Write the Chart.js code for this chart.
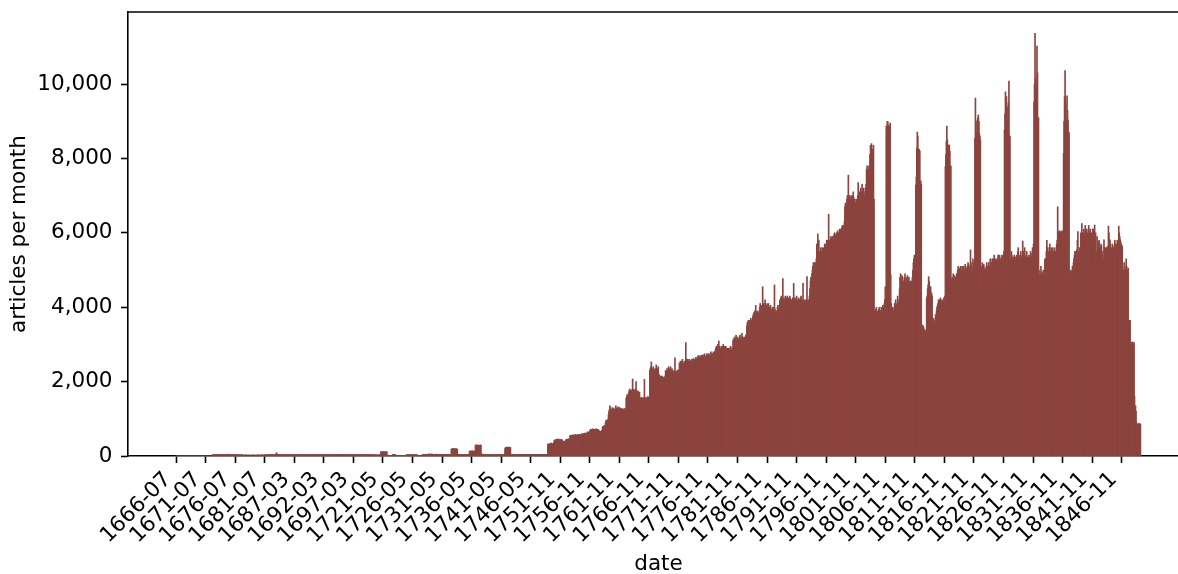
<!DOCTYPE html>
<html>
<head>
<meta charset="utf-8">
<script src="https://cdn.jsdelivr.net/npm/chart.js@4.4.1/dist/chart.umd.min.js"></script>
<style>
  html, body { margin: 0; padding: 0; background: #fff; }
  /* the axes run a little past the right edge of the picture */
  #clip { width: 1178px; height: 574px; overflow: hidden; }
  #wrap { width: 1189px; height: 574px; position: relative; }
</style>
</head>
<body>
<div id="clip"><div id="wrap"><canvas id="articlesPerMonth"></canvas></div></div>
<script>
// months that appear on the axis (the gaps between spans are not plotted)
const monthSpans = [
  ["1666-07", "1683-12"],
  ["1684-09", "1700-12"],
  ["1720-03", "1748-12"],
  ["1749-07", "1850-01"],
];

// articles per month, one row per year
const counts1666 = [
  0, 0, 0, 0, 0, 0,
  0, 0, 0, 0, 0, 0, 0, 0, 0, 0, 0, 0,
  0, 0, 0, 0, 0, 0, 0, 0, 0, 0, 0, 0,
  0, 0, 0, 0, 0, 0, 0, 0, 0, 0, 0, 0,
  0, 0, 0, 0, 0, 0, 0, 0, 0, 0, 0, 0,
  0, 0, 0, 0, 0, 0, 0, 0, 0, 0, 0, 0,
  0, 0, 0, 0, 0, 0, 0, 0, 35, 40, 30, 35,
  40, 35, 30, 45, 40, 35, 30, 40, 35, 45, 40, 30,
  35, 40, 45, 30, 35, 40, 30, 35, 40, 45, 35, 30,
  40, 30, 35, 45, 50, 40, 35, 30, 40, 35, 45, 40,
  35, 30, 40, 45, 35, 30, 40, 35, 30, 40, 35, 30,
  30, 0, 35, 0, 30, 40, 0, 30, 35, 0, 30, 0,
  0, 30, 0, 0, 35, 0, 0, 30, 0, 0, 30, 0,
  0, 0, 30, 0, 0, 35, 0, 0, 30, 0, 0, 0,
  30, 0, 0, 30, 0, 35, 0, 30, 0, 0, 35, 0,
  0, 30, 35, 0, 30, 0, 35, 30, 0, 35, 30, 0,
  30, 35, 30, 40, 35, 30, 35, 40, 30, 35, 30, 35,
  35, 40, 30, 35, 40, 35, 90, 60, 40, 35, 30, 35,
];

const counts1684 = [
  35, 40, 35, 30,
  35, 40, 30, 35, 40, 35, 30, 40, 35, 30, 35, 40,
  30, 35, 40, 35, 30, 35, 40, 30, 35, 40, 35, 30,
  35, 40, 35, 30, 40, 35, 30, 35, 40, 35, 30, 35,
  40, 35, 30, 35, 40, 35, 45, 40, 35, 30, 35, 40,
  35, 30, 35, 40, 35, 30, 40, 35, 30, 35, 40, 35,
  30, 35, 40, 35, 30, 35, 40, 35, 30, 35, 40, 35,
  35, 40, 35, 30, 35, 40, 35, 30, 35, 40, 35, 30,
  35, 30, 40, 35, 30, 35, 40, 35, 45, 40, 35, 30,
  35, 40, 35, 30, 35, 40, 35, 30, 35, 40, 35, 30,
  30, 35, 40, 35, 30, 35, 40, 35, 30, 35, 40, 35,
  35, 40, 35, 30, 35, 40, 35, 30, 35, 40, 35, 30,
  35, 30, 35, 40, 35, 30, 35, 40, 35, 30, 35, 40,
  35, 40, 35, 30, 35, 40, 35, 30, 35, 40, 35, 30,
  30, 35, 40, 35, 30, 35, 40, 35, 30, 35, 40, 35,
  35, 30, 35, 40, 35, 30, 35, 40, 35, 30, 35, 40,
  30, 25, 30, 35, 30, 25, 30, 35, 30, 25, 30, 30,
];

const counts1720 = [
  30, 25, 30, 20, 25, 30, 25, 30, 30, 25,
  110, 115, 105, 110, 120, 110, 105, 115, 110, 100, 110, 115,
  110, 15, 10, 0, 10, 15, 0, 10, 15, 10, 0, 10,
  40, 45, 40, 35, 40, 45, 15, 10, 0, 10, 15, 0,
  10, 0, 15, 10, 0, 10, 0, 15, 10, 0, 10, 15,
  0, 10, 0, 10, 30, 35, 30, 25, 30, 35, 30, 35,
  30, 35, 30, 25, 30, 35, 30, 30, 35, 30, 25, 30,
  30, 35, 20, 15, 0, 10, 0, 0, 10, 0, 15, 0,
  35, 40, 45, 40, 35, 40, 45, 40, 35, 40, 45, 40,
  40, 45, 60, 40, 35, 40, 45, 60, 40, 45, 40, 35,
  40, 35, 45, 40, 50, 40, 35, 40, 45, 40, 35, 40,
  40, 45, 40, 35, 40, 45, 40, 35, 40, 45, 40, 40,
  40, 35, 40, 45, 40, 35, 40, 45, 40, 35, 40, 180,
  190, 200, 185, 195, 190, 180, 200, 190, 185, 195, 190, 180,
  40, 35, 40, 35, 30, 35, 40, 35, 30, 35, 40, 35,
  35, 30, 35, 40, 35, 30, 35, 40, 35, 30, 35, 40,
  120, 130, 140, 110, 130, 120, 140, 130, 125, 135, 130, 120,
  290, 300, 280, 270, 290, 300, 280, 290, 270, 280, 300, 290,
  40, 35, 40, 50, 35, 40, 35, 40, 35, 40, 35, 40,
  35, 40, 35, 30, 35, 40, 35, 30, 35, 40, 35, 30,
  35, 40, 35, 30, 35, 40, 35, 30, 35, 40, 35, 30,
  35, 40, 35, 30, 35, 40, 35, 30, 35, 40, 35, 30,
  200, 220, 240, 230, 210, 230, 240, 220, 230, 240, 220, 230,
  40, 45, 40, 35, 40, 45, 40, 35, 45, 40, 35, 40,
  35, 40, 45, 40, 35, 40, 45, 40, 35, 40, 45, 40,
  40, 35, 40, 45, 40, 35, 40, 45, 40, 35, 40, 45,
  45, 40, 35, 40, 45, 40, 35, 40, 45, 40, 35, 40,
  40, 45, 40, 35, 40, 45, 40, 35, 40, 45, 40, 35,
  35, 40, 45, 40, 35, 40, 45, 40, 35, 40, 45, 40,
];

const counts1749 = [
  40, 45, 40, 320, 310, 330,
  320, 330, 300, 340, 350, 320, 330, 310, 340, 360, 420, 430,
  430, 440, 420, 450, 430, 440, 460, 430, 420, 440, 450, 430,
  430, 420, 440, 400, 390, 380, 390, 400, 390, 420, 440, 430,
  450, 440, 460, 430, 450, 470, 540, 560, 550, 540, 560, 550,
  560, 550, 570, 540, 560, 580, 550, 560, 540, 570, 580, 560,
  560, 580, 570, 550, 560, 590, 600, 570, 560, 580, 600, 610,
  600, 620, 610, 580, 600, 630, 650, 640, 620, 600, 660, 700,
  710, 720, 700, 690, 730, 720, 700, 710, 720, 690, 700, 730,
  720, 710, 700, 720, 690, 680, 650, 660, 640, 650, 680, 700,
  780, 800, 790, 820, 800, 780, 900, 950, 960, 940, 980, 950,
  1100, 1200, 1250, 1350, 1300, 1150, 1250, 1200, 1300, 1250, 1280, 1220,
  1200, 1250, 1300, 1350, 1280, 1260, 1240, 1300, 1320, 1280, 1250, 1300,
  1260, 1240, 1280, 1230, 1250, 1270, 1250, 1230, 1260, 1280, 1250, 1240,
  1550, 1600, 1650, 1580, 1620, 1700, 1750, 1800, 1720, 1750, 1780, 1760,
  1750, 2070, 1800, 1720, 1780, 1700, 1750, 1800, 2000, 1750, 1700, 1720,
  1750, 1700, 1680, 1720, 1560, 1520, 1550, 1580, 1540, 1560, 1530, 1570,
  1550, 2060, 1580, 1540, 1560, 1520, 1570, 1550, 1600, 1580, 1540, 1560,
  2300, 2350, 2400, 2530, 2250, 2200, 2350, 2400, 2300, 2280, 2320, 2350,
  2200, 2450, 2300, 2250, 2350, 2400, 2200, 2180, 2100, 2050, 2150, 2100,
  2100, 2150, 2050, 2000, 2120, 2080, 2100, 2150, 2300, 2250, 2280, 2350,
  2300, 2250, 2400, 2350, 2300, 2200, 2400, 2300, 2250, 2350, 2300, 2280,
  2250, 2200, 2300, 2640, 2250, 2200, 2280, 2240, 2300, 2250, 2320, 2280,
  2500, 2450, 2550, 2400, 2500, 2550, 2600, 2450, 2500, 2480, 2550, 2520,
  2500, 3050, 2600, 2550, 2500, 2600, 2550, 2500, 2600, 2580, 2520, 2550,
  2550, 2600, 2500, 2550, 2620, 2580, 2600, 2550, 2500, 2650, 2600, 2580,
  2650, 2620, 2700, 2680, 2600, 2650, 2700, 2620, 2680, 2700, 2650, 2720,
  2700, 2650, 2680, 2750, 2700, 2600, 2650, 2700, 2750, 2680, 2720, 2700,
  2750, 2700, 2680, 2720, 2800, 2750, 2700, 2650, 2750, 2800, 2720, 2700,
  2800, 2850, 2900, 2950, 2850, 2900, 3000, 2900, 3090, 2950, 2850, 2900,
  2900, 2950, 2850, 2900, 2950, 3000, 2900, 2950, 2850, 2900, 2950, 2900,
  2850, 2900, 2800, 2850, 2900, 2850, 2800, 2900, 2950, 2850, 2800, 2900,
  2850, 3100, 3150, 3050, 3200, 3150, 3100, 3250, 3150, 3100, 3200, 3150,
  3150, 3100, 3200, 3250, 3150, 3100, 3200, 3300, 3150, 3200, 3100, 3150,
  3200, 3100, 3150, 3250, 3200, 3500, 3600, 3550, 3650, 3600, 3500, 3650,
  3600, 3700, 3550, 3650, 3600, 3750, 3800, 3850, 3750, 3900, 3800, 4050,
  3800, 3850, 3900, 3750, 3800, 3850, 3900, 4000, 4100, 3950, 4000, 4050,
  4000, 4550, 4100, 3950, 4000, 4100, 4200, 3950, 4000, 4050, 4100, 3900,
  4000, 4100, 3950, 4000, 3900, 4050, 3950, 3850, 3900, 4000, 3850, 3900,
  4000, 4600, 3950, 3900, 3850, 3630, 3900, 4000, 4050, 3950, 3900, 4050,
  4200, 4150, 4250, 4300, 4150, 4200, 4770, 4200, 4250, 4150, 4200, 4300,
  4200, 4250, 4150, 4300, 4200, 4250, 4150, 4200, 4300, 4250, 4200, 4150,
  4200, 4150, 4250, 4200, 4640, 4200, 4250, 4150, 4200, 4250, 4300, 4200,
  4150, 4200, 4250, 4200, 4150, 4200, 4250, 4300, 4200, 4150, 4200, 4640,
  4150, 4100, 4200, 4150, 4100, 4200, 4150, 4820, 4200, 4150, 4100, 4200,
  4300, 4500, 4700, 4800, 4600, 4900, 5000, 5100, 5200, 5000, 5100, 5200,
  5100, 5200, 5300, 5700, 5600, 5970, 5700, 5800, 5500, 5400, 5500, 5600,
  5400, 5500, 5600, 5450, 5500, 5600, 5500, 5700, 5650, 5600, 5700, 5800,
  5700, 5800, 5650, 6500, 5750, 5800, 5700, 5900, 5800, 5850, 5900, 5800,
  5900, 5800, 5950, 6000, 5850, 5900, 5950, 6000, 5900, 6050, 5950, 6000,
  6000, 6100, 5900, 6050, 6100, 6000, 6150, 6200, 6050, 6100, 6200, 6300,
  6700, 6800, 6600, 6750, 6900, 7000, 6800, 7550, 6900, 6950, 7000, 6850,
  6900, 7000, 6850, 6900, 7000, 7100, 6950, 6800, 6900, 6700, 6800, 6900,
  5900, 6200, 7000, 7350, 7000, 6900, 7100, 7000, 7200, 7100, 7000, 7300,
  7000, 7100, 7200, 7000, 6900, 7100, 7200, 7300, 7700, 7800, 7700, 7600,
  7700, 7800, 7750, 8100, 8350, 8300, 8400, 8200, 8100, 8250, 8350, 6900,
  3800, 3900, 3850, 3950, 4000, 3900, 3800, 3850, 3900, 3950, 4000, 3900,
  3850, 3900, 4000, 3950, 3900, 4050, 4000, 3950, 4100, 4200, 4550, 4500,
  8870, 8720, 8990, 8990, 8900, 6700, 8870, 8800, 8950, 4870, 4100, 4000,
  4000, 3950, 3800, 3900, 4000, 4100, 4050, 4200, 4100, 3950, 4000, 4300,
  4100, 4000, 4200, 4500, 4800, 4900, 4750, 4700, 4850, 4800, 4700, 4600,
  4700, 4800, 4900, 4750, 4700, 4600, 4800, 4850, 4700, 4600, 4800, 4700,
  4600, 4650, 4700, 4500, 4700, 4800, 5000, 5200, 5300, 5400, 5250, 5300,
  7280, 7500, 8270, 8710, 8600, 8230, 8250, 8230, 8200, 7370, 7400, 7300,
  3160, 3300, 3520, 3480, 3450, 3400, 3340, 3350, 3300, 3400, 4240, 4300,
  4500, 4600, 4820, 4700, 4550, 4500, 4550, 4400, 4370, 4300, 3520, 3600,
  3700, 3650, 3550, 3500, 3800, 3700, 3900, 4000, 4050, 4100, 4200, 4150,
  4200, 4100, 4250, 4150, 4050, 4200, 4100, 4150, 4200, 4250, 4100, 4300,
  7780, 8100, 8450, 8870, 8500, 8230, 8300, 8360, 8360, 8200, 7780, 7800,
  4750, 4700, 4800, 4650, 4900, 4700, 4750, 4850, 4700, 4800, 4750, 4900,
  4900, 5000, 5100, 4950, 5050, 5000, 4800, 5100, 5000, 4900, 5100, 5000,
  5100, 5050, 4900, 5000, 5150, 5100, 5000, 5050, 4950, 5100, 5200, 5150,
  5100, 5000, 5050, 5540, 5200, 5100, 4800, 5000, 5300, 5100, 5200, 5150,
  8540, 9620, 9000, 8400, 8700, 9030, 9100, 9170, 9000, 8670, 8600, 8500,
  4510, 5100, 5000, 5200, 5100, 5000, 5150, 4900, 5050, 5000, 4800, 5100,
  5200, 5000, 5100, 5050, 5200, 4900, 5100, 5300, 5000, 5100, 5200, 5300,
  5100, 5300, 5200, 5400, 5100, 5200, 5300, 5150, 5250, 5300, 5200, 5400,
  5350, 5300, 5400, 5200, 5300, 5250, 5350, 5400, 5300, 5200, 5400, 5500,
  8760, 9200, 9790, 9500, 9660, 8900, 9000, 9390, 9500, 10080, 8580, 8600,
  5200, 5300, 5500, 5400, 5300, 5200, 5350, 5250, 5400, 5300, 5200, 5350,
  5300, 5400, 5200, 5500, 5600, 5400, 5300, 5350, 5400, 5500, 5350, 5300,
  5400, 5780, 5500, 5300, 5400, 5600, 5350, 5300, 5400, 5500, 5350, 5300,
  5300, 5400, 5350, 5300, 5400, 5500, 5350, 5300, 5450, 5600, 5500, 5700,
  9520, 10000, 11360, 10150, 9840, 9900, 11020, 10300, 9080, 9100, 5000, 4900,
  4900, 4850, 5100, 4800, 4950, 4700, 4900, 5000, 4750, 4850, 5300, 5200,
  5300, 5500, 5800, 5400, 5600, 5300, 5500, 5200, 5700, 5500, 5450, 5600,
  5500, 5400, 5600, 5500, 5200, 5300, 5600, 5500, 5400, 5500, 5700, 5800,
  6700, 6030, 6000, 6050, 6000, 5990, 6000, 6050, 6000, 5990, 6050, 6000,
  8140, 9000, 9660, 10360, 9500, 8630, 9000, 9680, 9300, 9030, 8600, 8700,
  4900, 5000, 4800, 4950, 4850, 5000, 5100, 4900, 5200, 5300, 5400, 5500,
  5300, 5500, 5450, 5550, 5800, 6030, 5300, 5500, 5400, 5600, 5500, 5990,
  6000, 6250, 5800, 6000, 5900, 6100, 5700, 6000, 6200, 5800, 6100, 5900,
  6000, 5900, 6100, 6200, 5800, 6000, 6100, 5700, 6000, 5800, 5900, 6100,
  6100, 5450, 5600, 6210, 5800, 6000, 5180, 5500, 5900, 5450, 5700, 5760,
  5800, 5540, 5600, 5630, 5700, 5650, 5500, 5400, 5130, 5300, 5810, 5600,
  5500, 5600, 5580, 5600, 5500, 5630, 5500, 6180, 6000, 5800, 5810, 5700,
  5600, 5500, 5580, 5700, 5650, 5600, 5400, 5600, 5800, 5700, 5500, 5600,
  5700, 5800, 5600, 5500, 6180, 6000, 5900, 5810, 5750, 5700, 5600, 5650,
  4550, 5000, 4900, 5200, 5100, 4900, 5000, 5300, 5100, 5000, 4900, 5050,
  3650, 3650, 3600, 3650, 3000, 2950, 3050, 3000, 3070, 2950, 3000, 3050,
  1600, 1300, 1350, 1200, 900, 850, 820, 850, 880, 850, 830, 870,
  850,
];

// one label every 60 months on the axis
const tickLabels = [
  "1666-07", "1671-07", "1676-07", "1681-07", "1687-03", "1692-03", "1697-03",
  "1721-05", "1726-05", "1731-05", "1736-05", "1741-05", "1746-05", "1751-11",
  "1756-11", "1761-11", "1766-11", "1771-11", "1776-11", "1781-11", "1786-11",
  "1791-11", "1796-11", "1801-11", "1806-11", "1811-11", "1816-11", "1821-11",
  "1826-11", "1831-11", "1836-11", "1841-11", "1846-11",
];
const tickStep = 60;
const yTicks = [0, 2000, 4000, 6000, 8000, 10000];

function monthsBetween(from, to) {
  let [y, m] = from.split("-").map(Number);
  const [ty, tm] = to.split("-").map(Number);
  const out = [];
  while (y < ty || (y === ty && m <= tm)) {
    out.push(y + "-" + String(m).padStart(2, "0"));
    m++;
    if (m > 12) { m = 1; y++; }
  }
  return out;
}

const months = monthSpans.flatMap(([a, b]) => monthsBetween(a, b));
const counts = [...counts1666, ...counts1684, ...counts1720, ...counts1749];
if (months.length !== counts.length) console.warn("length mismatch", months.length, counts.length);

const font = { family: "DejaVu Sans", size: 21.5 };
Chart.defaults.color = "#000";

// matplotlib keeps a top spine, chart.js has no option for it
const topSpine = {
  id: "topSpine",
  afterDraw(chart) {
    const { ctx, chartArea } = chart;
    ctx.save();
    ctx.strokeStyle = "#000";
    ctx.lineWidth = 1.6;
    ctx.beginPath();
    ctx.moveTo(chartArea.left, chartArea.top);
    ctx.lineTo(chartArea.right, chartArea.top);
    ctx.stroke();
    ctx.restore();
  },
};

// tick marks only, no grid inside the plot (bar charts offset them by default)
const tickMarks = {
  display: true,
  offset: false,
  drawOnChartArea: false,
  drawTicks: true,
  tickLength: 7,
  tickWidth: 1.6,
  tickColor: "#000",
};

const articlesPerMonth = document.getElementById("articlesPerMonth");

new Chart(articlesPerMonth, {
  type: "bar",
  data: {
    datasets: [
      {
        label: "articles per month",
        data: counts.map((v, i) => ({ x: i, y: v })),
        backgroundColor: "#8c443e",
        borderWidth: 0,
        barThickness: 1,
      },
    ],
  },
  options: {
    responsive: true,
    maintainAspectRatio: false,
    animation: false,
    layout: { padding: { top: 12, left: 0, right: 0, bottom: 0 } },
    plugins: {
      legend: { display: false },
      tooltip: { enabled: false },
    },
    scales: {
      x: {
        type: "linear",
        offset: false,
        min: -97.5,
        max: 2056.6,
        afterBuildTicks: (scale) => {
          scale.ticks = tickLabels.map((_, k) => ({ value: k * tickStep }));
        },
        afterFit: (scale) => {
          scale.height = 118;
          scale.paddingLeft = 0;
          scale.paddingRight = 0;
        },
        ticks: {
          autoSkip: false,
          minRotation: 45,
          maxRotation: 45,
          padding: 4,
          labelOffset: -8,
          font: font,
          callback: (value, index) => tickLabels[index],
        },
        grid: tickMarks,
        border: { display: true, color: "#000", width: 1.6 },
        title: {
          display: true,
          text: "date",
          font: { ...font, lineHeight: 1 },
          padding: { top: 0, bottom: -1.5 },
        },
      },
      y: {
        min: 0,
        max: 11936,
        afterBuildTicks: (scale) => {
          scale.ticks = yTicks.map((v) => ({ value: v }));
        },
        afterFit: (scale) => {
          scale.width = 128;
          scale.paddingTop = 0;
          scale.paddingBottom = 0;
        },
        ticks: {
          padding: 8.5,
          font: font,
          callback: (value) => value.toLocaleString("en-US"),
        },
        grid: tickMarks,
        border: { display: true, color: "#000", width: 1.6 },
        title: {
          display: true,
          text: "articles per month",
          font: font,
          padding: { top: 7, bottom: 0 },
        },
      },
    },
  },
  plugins: [topSpine],
});
</script>
</body>
</html>
